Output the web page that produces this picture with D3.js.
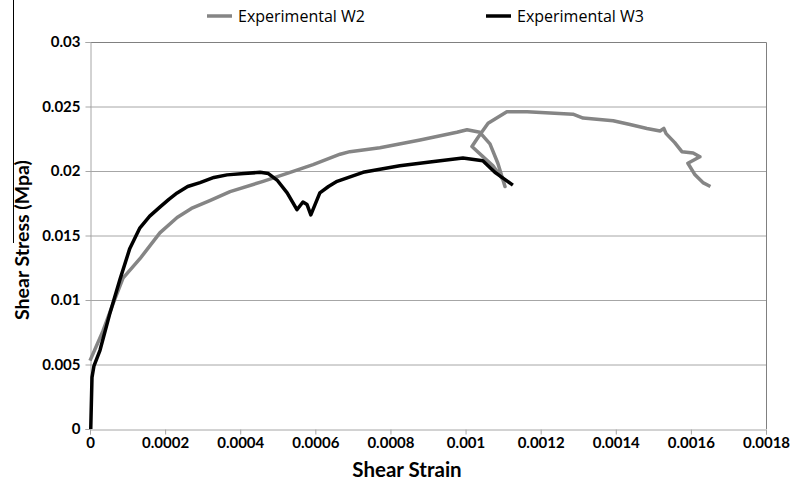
<!DOCTYPE html>
<html>
<head>
<meta charset="utf-8">
<script src="https://cdn.jsdelivr.net/npm/d3@7"></script>
<style>
  body { margin: 0; background: #fff; }
  svg { display: block; }
  .tick text { font-family: Lato, "Open Sans", sans-serif; font-weight: bold; font-size: 15px; fill: #000; }
</style>
</head>
<body>
<div id="graph"></div>
<script>
// strain / stress pairs
const w2Strain = [0, 0.0000346, 0.0000612, 0.0000879, 0.000133, 0.000186, 0.000232, 0.00027, 0.000319, 0.000373,
  0.000461, 0.000533, 0.000594, 0.000666, 0.000692, 0.000772, 0.000879, 0.000977, 0.001004, 0.001038,
  0.001065, 0.001086, 0.001105, 0.0011, 0.001073, 0.001017, 0.001033, 0.00106, 0.00111, 0.001164,
  0.001286, 0.001313, 0.001393, 0.001438, 0.001483, 0.001518, 0.001528, 0.001534, 0.001557, 0.001576,
  0.001606, 0.001624, 0.001592, 0.001611, 0.001632, 0.001652];
const w2Stress = [0.0053, 0.0076, 0.0097, 0.0117, 0.0132, 0.0152, 0.0164, 0.0171, 0.0177, 0.0184,
  0.0192, 0.0199, 0.0205, 0.0213, 0.0215, 0.0218, 0.0224, 0.0230, 0.0232, 0.0230,
  0.0221, 0.0206, 0.0188, 0.0193, 0.0204, 0.0219, 0.0226, 0.0237, 0.0246, 0.0246,
  0.0244, 0.0241, 0.0239, 0.0236, 0.0233, 0.0231, 0.0233, 0.0229, 0.0222, 0.0215,
  0.0214, 0.0211, 0.0206, 0.0197, 0.0191, 0.0188];

const w3Strain = [0.000002, 0.0000053, 0.0000106, 0.0000266, 0.0000533, 0.0000799, 0.000106, 0.000133,
  0.000159, 0.000186, 0.00021, 0.000232, 0.00026, 0.000293, 0.00033, 0.000365, 0.00041, 0.000453,
  0.000475, 0.000498, 0.000525, 0.000551, 0.000567, 0.000578, 0.000588,
  0.000612, 0.000635, 0.000658, 0.000727, 0.000825, 0.000905, 0.000993, 0.001046, 0.001078, 0.001097, 0.001126];
const w3Stress = [0, 0.0040, 0.0049, 0.0061, 0.0090, 0.0116, 0.0140, 0.0156,
  0.0165, 0.0172, 0.0178, 0.0183, 0.0188, 0.0191, 0.0195, 0.0197, 0.0198, 0.0199,
  0.0198, 0.0193, 0.0183, 0.0170, 0.0176, 0.0174, 0.0166,
  0.0183, 0.0188, 0.0192, 0.0199, 0.0204, 0.0207, 0.0210, 0.0208, 0.0199, 0.0195, 0.0189];

const seriesNames = ["Experimental W2", "Experimental W3"];
const seriesColors = ["#858585", "#000000"];
const xTicks = [0, 0.0002, 0.0004, 0.0006, 0.0008, 0.001, 0.0012, 0.0014, 0.0016, 0.0018];
const yTicks = [0, 0.005, 0.01, 0.015, 0.02, 0.025, 0.03];

const W = 792, H = 486;
const margin = { top: 42, right: 26, bottom: 57, left: 90 };

const svg = d3.select("#graph").append("svg")
  .attr("width", W).attr("height", H);

const x = d3.scaleLinear().domain([0, 0.0018]).range([margin.left, W - margin.right]);
const y = d3.scaleLinear().domain([0, 0.03]).range([H - margin.bottom, margin.top]);

// stray scan line on the left edge
svg.append("line")
  .attr("x1", 13.5).attr("x2", 13.5).attr("y1", 0).attr("y2", 243)
  .attr("stroke", "#000").attr("stroke-width", 1);

// gridlines
svg.append("g")
  .selectAll("line")
  .data(yTicks.slice(1, -1))
  .join("line")
  .attr("x1", x(0)).attr("x2", x(0.0018))
  .attr("y1", d => y(d) + 0.5).attr("y2", d => y(d) + 0.5)
  .attr("stroke", "#a6a6a6");

// frame top / right
svg.append("path")
  .attr("d", `M${x(0)},${y(0.03) + 0.5}H${x(0.0018) + 0.5}V${y(0)}`)
  .attr("fill", "none").attr("stroke", "#808080");

const xAxis = svg.append("g")
  .attr("transform", `translate(0,${y(0) + 0.5})`)
  .call(d3.axisBottom(x).tickValues(xTicks).tickFormat(d => d3.format("")(+d.toFixed(4))).tickSize(5).tickPadding(3));
xAxis.select(".domain").attr("stroke", "#a6a6a6");
xAxis.selectAll(".tick line").attr("stroke", "#a6a6a6");

const yAxis = svg.append("g")
  .attr("transform", `translate(${x(0) + 0.5},0)`)
  .call(d3.axisLeft(y).tickValues(yTicks).tickFormat(d => d3.format("")(+d.toFixed(3))).tickSize(5).tickPadding(5));
yAxis.select(".domain").attr("stroke", "#a6a6a6");
yAxis.selectAll(".tick line").attr("stroke", "#a6a6a6");

// lines
const line = d3.line().x(d => x(d[0])).y(d => y(d[1]));
const w2 = w2Strain.map((s, i) => [s, w2Stress[i]]);
const w3 = w3Strain.map((s, i) => [s, w3Stress[i]]);

svg.append("path").datum(w2)
  .attr("d", line).attr("fill", "none")
  .attr("stroke", seriesColors[0]).attr("stroke-width", 3.5).attr("stroke-linejoin", "round");
svg.append("path").datum(w3)
  .attr("d", line).attr("fill", "none")
  .attr("stroke", seriesColors[1]).attr("stroke-width", 3.5).attr("stroke-linejoin", "round");

// axis titles
svg.append("text")
  .attr("x", 407).attr("y", 477)
  .attr("text-anchor", "middle")
  .style("font-family", "Lato, sans-serif").style("font-weight", "bold").style("font-size", "20.5px")
  .text("Shear Strain");

svg.append("text")
  .attr("transform", "translate(29,240) rotate(-90)")
  .attr("text-anchor", "middle")
  .style("font-family", "Lato, sans-serif").style("font-weight", "bold").style("font-size", "19.5px")
  .text("Shear Stress (Mpa)");

// legend
const legendX = [207, 486];
const legend = svg.append("g").selectAll("g")
  .data(seriesNames)
  .join("g")
  .attr("transform", (d, i) => `translate(${legendX[i]},16)`);
legend.append("line")
  .attr("x1", 0).attr("x2", 25)
  .attr("stroke", (d, i) => seriesColors[i]).attr("stroke-width", 3.5);
legend.append("text")
  .attr("x", 31).attr("dy", "0.35em")
  .style("font-family", "'Open Sans', sans-serif").style("font-size", "16px")
  .text(d => d);
</script>
</body>
</html>
